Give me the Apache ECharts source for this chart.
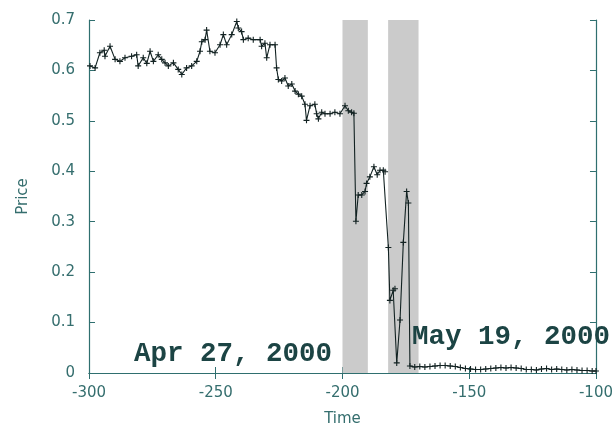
<!DOCTYPE html>
<html>
<head>
<meta charset="utf-8">
<script src="https://cdn.jsdelivr.net/npm/echarts@6/dist/echarts.min.js"></script>
<style>
  html, body { margin: 0; padding: 0; background: #ffffff; }
  #chart { width: 616px; height: 432px; }
</style>
</head>
<body>
<div id="chart"></div>
<script>
// Trading time (days relative to the end of the record) and closing price
const times = [
  -299.6, -297.6, -295.7, -294.0, -293.7, -291.7, -289.7, -287.8, -285.8, -283.2,
  -281.2, -280.6, -278.6, -277.2, -275.9, -274.6, -272.7, -271.3, -270.0, -268.7,
  -266.7, -264.8, -263.4, -261.5, -259.5, -257.5, -256.2, -255.5, -254.2, -253.6,
  -252.3, -250.3, -248.3, -247.0, -245.7, -243.7, -241.7, -241.1, -239.8, -239.1,
  -237.2, -235.2, -232.5, -231.9, -230.6, -229.9, -228.6, -226.6, -226.0, -225.3,
  -224.0, -222.7, -221.4, -220.0, -218.7, -217.4, -216.1, -214.8, -214.2, -212.8,
  -210.9, -210.2, -209.5, -208.2, -206.9, -204.9, -203.0, -201.0, -199.0, -197.7,
  -196.4, -195.5, -194.7, -193.8, -192.4, -191.1, -190.5, -189.2, -187.6, -186.3,
  -185.2, -183.9, -183.2, -181.9, -181.3, -180.0, -179.3, -178.6, -177.3, -176.0,
  -174.7, -174.0, -173.4, -171.5, -169.5, -167.5, -165.5, -163.5, -161.5, -159.5,
  -157.5, -155.5, -153.5, -151.5, -149.5, -147.5, -145.5, -143.5, -141.5, -139.5,
  -137.5, -135.5, -133.5, -131.5, -129.5, -127.5, -125.5, -123.5, -121.5, -119.5,
  -117.5, -115.5, -113.5, -111.5, -109.5, -107.5, -105.5, -103.5, -101.5, -100.0
];
const prices = [
  0.609, 0.605, 0.635, 0.640, 0.628, 0.648, 0.622, 0.618, 0.625, 0.628,
  0.631, 0.609, 0.625, 0.614, 0.638, 0.618, 0.631, 0.622, 0.615, 0.609,
  0.615, 0.602, 0.592, 0.605, 0.609, 0.618, 0.638, 0.657, 0.661, 0.680,
  0.638, 0.635, 0.651, 0.671, 0.651, 0.671, 0.697, 0.684, 0.677, 0.661,
  0.664, 0.661, 0.661, 0.648, 0.654, 0.625, 0.651, 0.651, 0.605, 0.582,
  0.579, 0.585, 0.569, 0.573, 0.559, 0.553, 0.549, 0.533, 0.501, 0.530,
  0.533, 0.514, 0.504, 0.517, 0.514, 0.514, 0.517, 0.514, 0.530, 0.520,
  0.517, 0.515, 0.301, 0.353, 0.353, 0.360, 0.376, 0.389, 0.409, 0.393,
  0.402, 0.402, 0.399, 0.249, 0.144, 0.164, 0.167, 0.020, 0.105, 0.259,
  0.360, 0.337, 0.014, 0.012, 0.013, 0.012, 0.013, 0.014, 0.015, 0.015,
  0.014, 0.013, 0.011, 0.009, 0.008, 0.007, 0.007, 0.008, 0.009, 0.010,
  0.011, 0.010, 0.011, 0.010, 0.009, 0.007, 0.007, 0.006, 0.008, 0.009,
  0.007, 0.008, 0.007, 0.006, 0.007, 0.006, 0.005, 0.005, 0.004, 0.004
];
// Shaded trading-halt windows
const halts = [[-200, -190], [-182, -170]];
const annotations = ['Apr 27, 2000', 'May 19, 2000'];

const axisColor = '#2f6f6f';
const textColor = '#356e6e';
const lineColor = '#122222';

const chart = echarts.init(document.getElementById('chart'), null, { renderer: 'canvas' });

const tickStyle = { show: true, inside: true, length: 6, lineStyle: { color: axisColor, width: 1 } };
const lineAxis = { show: true, lineStyle: { color: axisColor, width: 1.2 } };
const labelFont = { color: textColor, fontFamily: 'DejaVu Sans', fontSize: 15 };

chart.setOption({
  animation: false,
  backgroundColor: '#ffffff',
  grid: { left: 89, right: 20, top: 20, bottom: 55, containLabel: false },
  xAxis: [
    {
      type: 'value', min: -300, max: -100, interval: 50, position: 'bottom',
      name: 'Time', nameLocation: 'middle', nameGap: 39,
      nameTextStyle: { color: textColor, fontFamily: 'DejaVu Sans', fontSize: 15 },
      axisLine: lineAxis, axisTick: tickStyle, splitLine: { show: false },
      axisLabel: Object.assign({ margin: 13 }, labelFont)
    },
    {
      type: 'value', min: -300, max: -100, interval: 50, position: 'top',
      axisLine: lineAxis, axisTick: tickStyle, splitLine: { show: false },
      axisLabel: { show: false }
    }
  ],
  yAxis: [
    {
      type: 'value', min: 0, max: 0.7, interval: 0.1, position: 'left',
      name: 'Price', nameLocation: 'middle', nameGap: 58, nameRotate: 90,
      nameTextStyle: { color: textColor, fontFamily: 'DejaVu Sans', fontSize: 15 },
      axisLine: lineAxis, axisTick: tickStyle, splitLine: { show: false },
      axisLabel: Object.assign({
        margin: 14,
        formatter: v => (v === 0 ? '0' : v.toFixed(1))
      }, labelFont)
    },
    {
      type: 'value', min: 0, max: 0.7, interval: 0.1, position: 'right',
      axisLine: lineAxis, axisTick: tickStyle, splitLine: { show: false },
      axisLabel: { show: false }
    }
  ],
  series: [
    {
      type: 'line',
      xAxisIndex: 0, yAxisIndex: 0,
      data: times.map((t, i) => [t, prices[i]]),
      symbol: 'path://M5,0 L5,10 M0,5 L10,5',
      symbolSize: 6,
      showAllSymbol: true,
      itemStyle: { color: 'rgba(0,0,0,0)', borderColor: lineColor, borderWidth: 1.1 },
      lineStyle: { color: lineColor, width: 1.1 },
      z: 3,
      markArea: {
        silent: true,
        itemStyle: { color: '#cbcbcb', opacity: 1 },
        data: halts.map(h => [{ xAxis: h[0] }, { xAxis: h[1] }])
      }
    }
  ],
  graphic: [
    {
      type: 'text', left: 134, top: 340, z: 10,
      style: { text: annotations[0], fill: '#1c4444', font: 'bold 27.5px "Liberation Mono"' }
    },
    {
      type: 'text', left: 412, top: 323, z: 10,
      style: { text: annotations[1], fill: '#1c4444', font: 'bold 27.5px "Liberation Mono"' }
    }
  ]
});
</script>
</body>
</html>
